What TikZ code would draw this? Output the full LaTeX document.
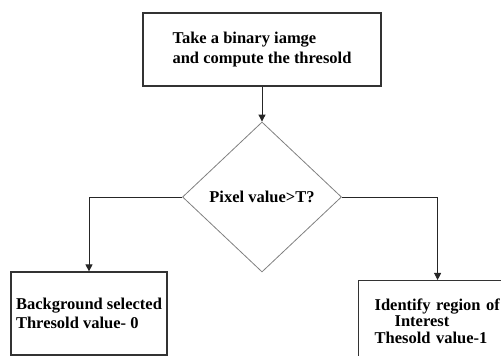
\documentclass[tikz,border=0pt]{standalone}
\usepackage{fontspec}
\setmainfont{Liberation Serif}
\usetikzlibrary{shapes.geometric,arrows.meta}
\begin{document}
\begin{tikzpicture}[x=1pt,y=1pt,
	box/.style={draw=black!80,line width=1.2pt,align=left,inner sep=0pt,font=\bfseries\fontsize{16.5}{19.5}\selectfont},
	decision/.style={diamond,draw=black!50,line width=.8pt,inner sep=0pt,minimum width=159pt,minimum height=150pt,font=\bfseries\fontsize{16.5}{19.5}\selectfont},
	link/.style={draw=black!85,line width=.9pt,-{Triangle[length=7pt,width=7pt]}}]
	
	\useasboundingbox (0,0) rectangle (501,356);
	\node[box,minimum width=238pt,minimum height=73pt] (take) at (262,306.5) {Take a binary iamge\\and compute the thresold};
	\node[decision] (pixel) at (262,159) {Pixel value>T?};
	\node[box,minimum width=156pt,minimum height=83pt] (backgr) at (89,42.5) {Background selected\\Thresold value- 0};
	\node[box,anchor=north west,inner xsep=16pt,text width=126pt,minimum height=81pt,font=\bfseries\fontsize{16.5}{16.5}\selectfont] (roi) at (358,76) {Identify region of\\\hspace*{20pt}Interest\\Thesold value-1};
	\draw[link] (take) -- (pixel);
	\draw[link] (pixel.west) -| (backgr.north);
	\draw[link] (pixel.east) -| (roi.north);
	
\end{tikzpicture}
\end{document}
